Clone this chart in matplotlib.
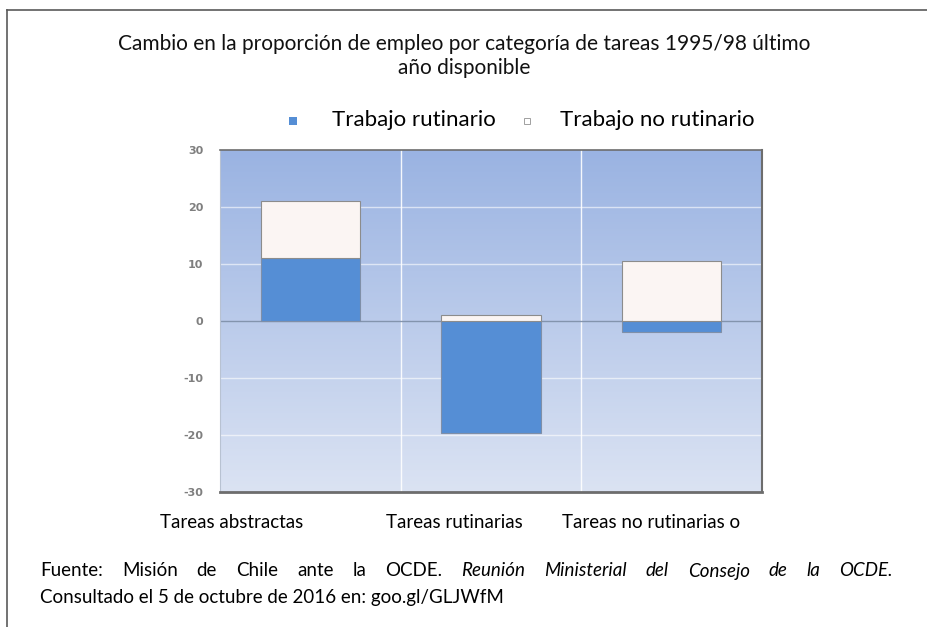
import numpy as np
import matplotlib.pyplot as plt
from matplotlib.colors import LinearSegmentedColormap
from matplotlib.lines import Line2D
from matplotlib.patches import Rectangle

# datos
categorias = ["Tareas abstractas", "Tareas rutinarias", "Tareas no rutinarias o"]
rutinario = [11.0, -19.7, -2.0]
no_rutinario = [10.0, 1.0, 10.5]
series = ["Trabajo rutinario", "Trabajo no rutinario"]
yticks = [-30, -20, -10, 0, 10, 20, 30]

titulo = "Cambio en la proporción de empleo por categoría de tareas 1995/98 último\naño disponible"
fuente_1 = "Fuente: Misión de Chile ante la OCDE."
fuente_2 = "Reunión Ministerial del Consejo de la OCDE."
fuente_3 = "Consultado el 5 de octubre de 2016 en: goo.gl/GLJWfM"

azul = "#558ed5"
blanco = "#fbf5f3"

plt.rcParams['font.family'] = ['Lato', 'DejaVu Sans']

fig = plt.figure(figsize=(9.28, 6.27), dpi=100)
ax = fig.add_axes([220/928, 1-492/627, 542/928, 342/627])

# fondo degradado del area del grafico
grad = LinearSegmentedColormap.from_list("fondo", ["#dbe3f3", "#9ab3e2"])
ax.imshow(np.linspace(0, 1, 256).reshape(-1, 1), cmap=grad, origin="lower",
          extent=[-0.5, 2.5, -30, 30], aspect="auto", zorder=0)

x = np.arange(len(categorias))
base_blanco = [max(v, 0) for v in rutinario]
ax.bar(x, rutinario, width=0.55, color=azul, edgecolor="#7f8fa8", linewidth=0.8, zorder=3)
ax.bar(x, no_rutinario, width=0.55, bottom=base_blanco, color=blanco,
       edgecolor="#8c8c8c", linewidth=0.8, zorder=3)

ax.set_xlim(-0.5, 2.5)
ax.set_ylim(-30, 30)
for t in yticks:
    if t == 0:
        ax.axhline(0, color="#8394ad", lw=1.0, zorder=2)
    elif abs(t) < 30:
        ax.axhline(t, color="white", lw=1.0, alpha=0.6, zorder=1)
for b in [0.5, 1.5]:
    ax.axvline(b, color="white", lw=1.0, alpha=0.9, zorder=1)

ax.set_yticks(yticks)
ax.set_yticklabels([str(t) for t in yticks], fontsize=8, color="#7f7f7f",
                   fontweight="bold", family="DejaVu Sans")
ax.set_xticks([])
ax.tick_params(axis="y", length=0, pad=12)
for s in ["top", "right", "bottom"]:
    ax.spines[s].set_color("#6d6d6d")
ax.spines["top"].set_linewidth(1.2)
ax.spines["right"].set_linewidth(1.5)
ax.spines["bottom"].set_linewidth(2.0)
ax.spines["left"].set_color("#b8c2d2")

# titulo y leyenda
fig.text(0.5, 1-56/627, titulo, ha="center", va="center", fontsize=15,
         linespacing=1.3, color="#111111")
fig.patches.append(Rectangle((289/928, 1-125/627), 8/928, 8/627, transform=fig.transFigure,
                             facecolor=azul, edgecolor="none"))
fig.text(332/928, 1-120/627, series[0], ha="left", va="center", fontsize=16)
fig.patches.append(Rectangle((524/928, 1-124/627), 6/928, 6/627, transform=fig.transFigure,
                             facecolor="white", edgecolor="#a0a0a0", lw=0.7))
fig.text(560/928, 1-120/627, series[1], ha="left", va="center", fontsize=16)

# etiquetas de categoria
for cx, nombre in zip([232, 454, 651], categorias):
    fig.text(cx/928, 1-523/627, nombre, ha="center", va="center", fontsize=13.5)

# fuente, primera linea justificada entre x=40 y x=893
renderer = fig.canvas.get_renderer()
palabras = [(w, "normal") for w in fuente_1.split()] + [(w, "italic") for w in fuente_2.split()]
piezas = []
ancho_total = 0
for w, estilo in palabras:
    t = fig.text(0, 1-571/627, w, ha="left", va="center", fontsize=13.5, style=estilo)
    ancho = t.get_window_extent(renderer).width
    piezas.append((t, ancho))
    ancho_total += ancho
hueco = (893 - 40 - ancho_total) / (len(piezas) - 1)
pos = 40
for t, ancho in piezas:
    t.set_x(pos/928)
    pos += ancho + hueco
fig.text(40/928, 1-598/627, fuente_3, ha="left", va="center", fontsize=13.5)

# marco del documento
fig.add_artist(Line2D([7/928, 7/928], [0, 1-10/627], transform=fig.transFigure,
                      color="#5a5a5a", lw=1.2))
fig.add_artist(Line2D([7/928, 1], [1-10/627, 1-10/627], transform=fig.transFigure,
                      color="#5a5a5a", lw=1.2))

fig.savefig("out.png", dpi=100)
